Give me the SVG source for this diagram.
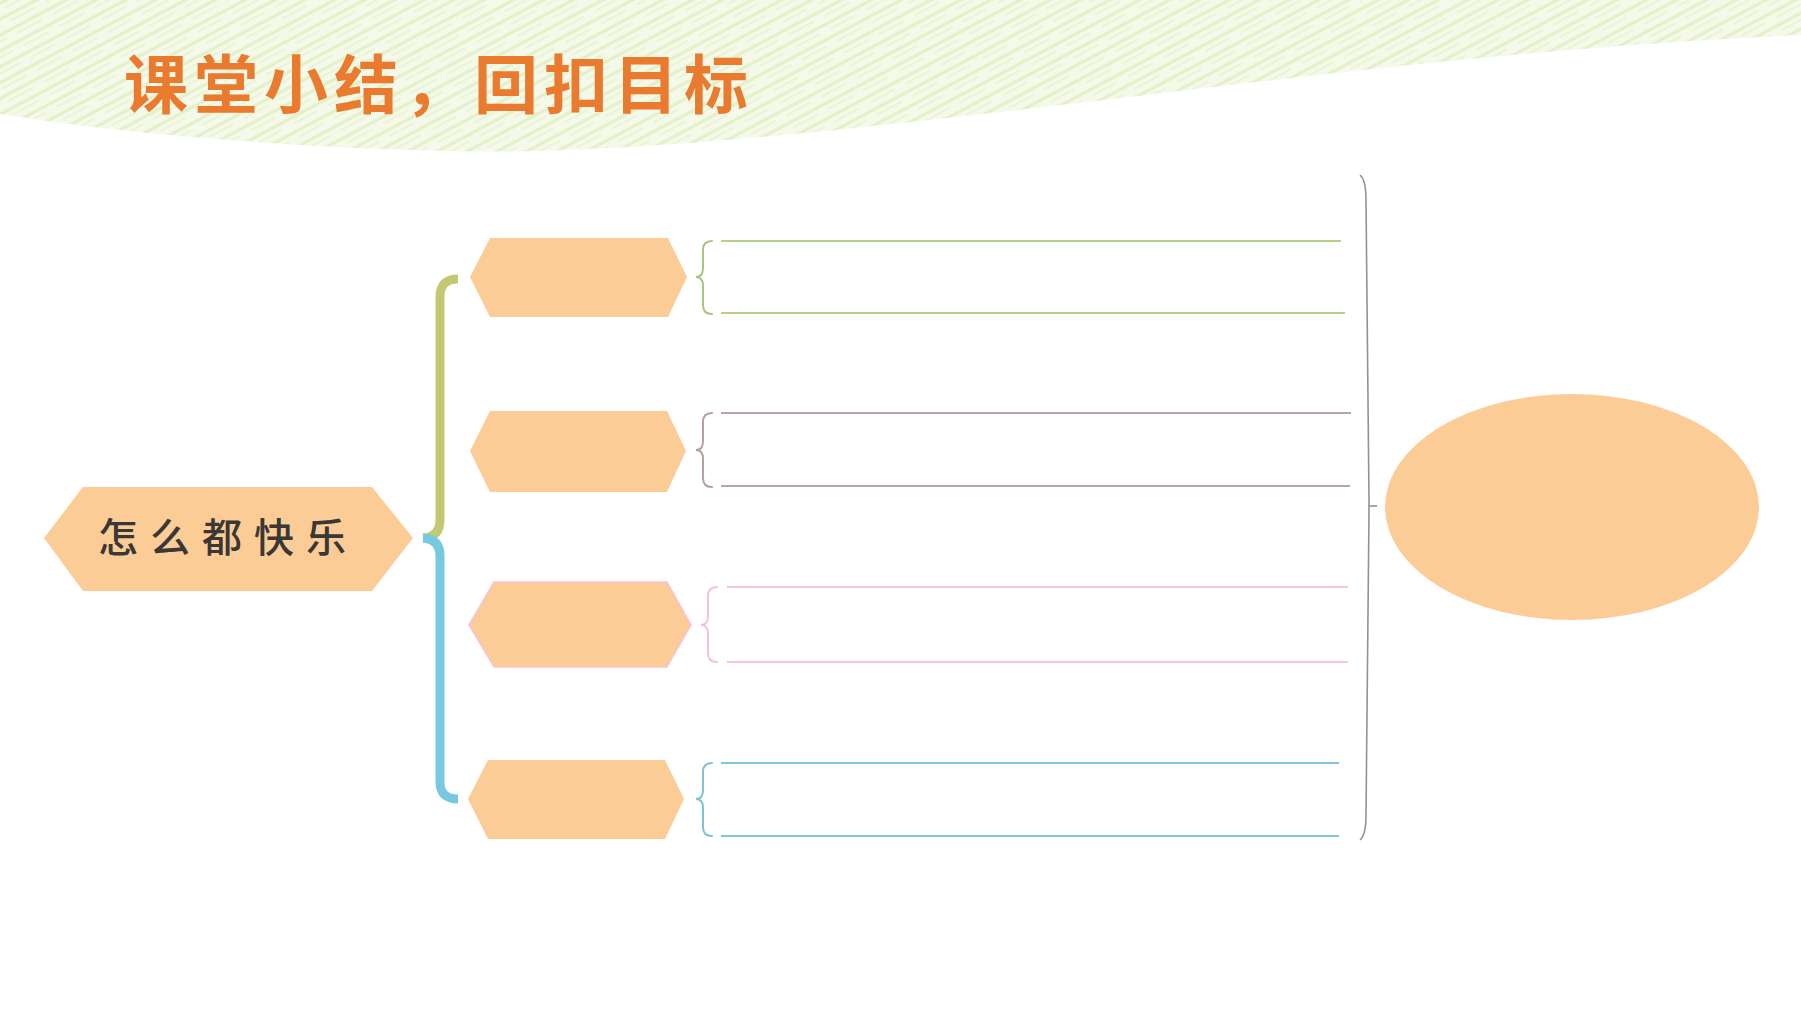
<svg xmlns="http://www.w3.org/2000/svg" width="1801" height="1013" viewBox="0 0 1801 1013">
<defs>
<pattern id="crayon" width="40" height="14" patternUnits="userSpaceOnUse" patternTransform="rotate(-28)">
<rect width="40" height="14" fill="#F4F9EA"/>
<line x1="0" y1="3" x2="40" y2="3" stroke="#E3F0C6" stroke-width="3"/>
<line x1="0" y1="9" x2="28" y2="9" stroke="#EAF4D4" stroke-width="2"/>
</pattern>
<style>
.hex{fill:#FCCC96;}
.bline{fill:none;stroke-width:2;}
.brace{fill:none;stroke-width:2;stroke-linecap:round;}
.big{fill:none;stroke-width:9;stroke-linecap:butt;}
</style>
</defs>
<rect width="1801" height="1013" fill="#FFFFFF"/>
<path d="M0,0 H1801 V35 C1500,48 1200,90 1000,112 C800,135 600,155 450,151 C250,146 100,130 0,114 Z" fill="url(#crayon)"/>
<text x="124" y="108" font-family="'Noto Sans CJK SC', sans-serif" font-weight="700" font-size="64" letter-spacing="6" fill="#E97A2E">课堂小结，回扣目标</text>

<g id="connectors">
<path class="big" stroke="#C3C972" d="M458,279 Q440,279 440,297 L440,520 Q440,537 423,538"/>
<path class="big" stroke="#76C9DE" d="M423,538 Q440,539 440,556 L440,782 Q440,799 458,799"/>
<path class="brace" stroke="#A9C47F" d="M712,241 Q703,241 703,250 L703,268 Q703,277 696,277 Q703,277 703,286 L703,305 Q703,314 712,314"/>
<path class="brace" stroke="#B5A09E" d="M712,413 Q703,413 703,422 L703,441 Q703,450 696,450 Q703,450 703,459 L703,478 Q703,487 712,487"/>
<path class="brace" stroke="#F2C2DC" d="M717,587 Q708,587 708,596 L708,616 Q708,625 701,625 Q708,625 708,634 L708,653 Q708,662 717,662"/>
<path class="brace" stroke="#7FC3CF" d="M712,763 Q703,763 703,772 L703,790 Q703,799 696,799 Q703,799 703,808 L703,827 Q703,836 712,836"/>
<line class="bline" stroke="#B5CF85" x1="721" y1="241" x2="1341" y2="241"/>
<line class="bline" stroke="#B5CF85" x1="721" y1="313" x2="1345" y2="313"/>
<line class="bline" stroke="#B8A6A4" x1="721" y1="413" x2="1351" y2="413"/>
<line class="bline" stroke="#B8A6A4" x1="721" y1="486" x2="1350" y2="486"/>
<line class="bline" stroke="#F8C6E0" x1="727" y1="587" x2="1348" y2="587"/>
<line class="bline" stroke="#F8C6E0" x1="727" y1="662" x2="1348" y2="662"/>
<line class="bline" stroke="#7EC8DA" x1="721" y1="763" x2="1339" y2="763"/>
<line class="bline" stroke="#7EC8DA" x1="721" y1="836" x2="1339" y2="836"/>
<path fill="none" stroke="#8E939A" stroke-width="1.6" d="M1360,175 Q1366,180 1366,200 L1369,500 L1369,512 L1366,815 Q1366,835 1360,840"/>
<line x1="1369" y1="506" x2="1377" y2="506" stroke="#8E939A" stroke-width="1.6"/>
</g>

<g id="node-main">
<polygon class="hex" points="44,538 83,487 372,487 413,538 372,591 83,591"/>
<text x="228" y="552" text-anchor="middle" font-family="'Noto Sans CJK SC', sans-serif" font-weight="500" font-size="40" letter-spacing="12" fill="#3A3836">怎么都快乐</text>
</g>
<g id="node-1">
<polygon class="hex" points="470,277 490,238 668,238 687,277 668,317 490,317"/>
</g>
<g id="node-2">
<polygon class="hex" points="470,451 490,411 667,411 686,451 667,492 490,492"/>
</g>
<g id="node-3">
<polygon class="hex" points="469,625 494,582 667,582 691,625 667,667 494,667" stroke="#F6C4D8" stroke-width="1.5"/>
</g>
<g id="node-4">
<polygon class="hex" points="468,799 488,760 665,760 684,799 665,839 488,839"/>
</g>
<g id="node-result">
<ellipse cx="1572" cy="507" rx="187" ry="113" fill="#FCCC96"/>
</g>
</svg>
